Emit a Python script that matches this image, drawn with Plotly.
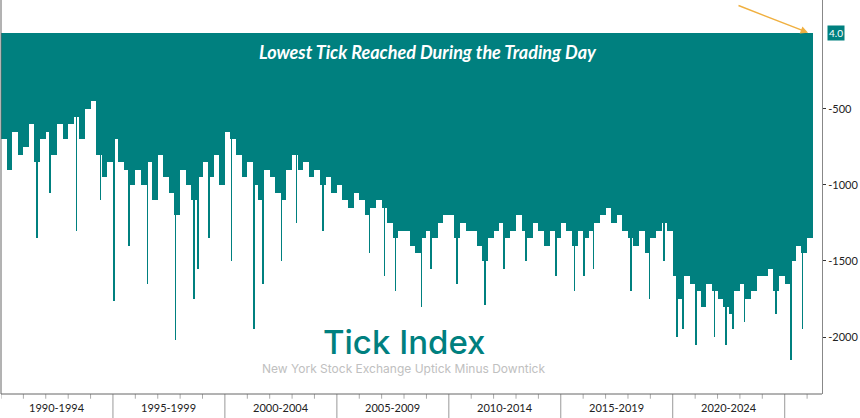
import plotly.graph_objects as go
import pandas as pd

# quarterly typical lows of the fill body
base_values = [
 -700,-900,-650,-800, -750,-600,-850,-700, -650,-800,-600,-700, -600,-550,-700,-500, -450,-800,-950,-850,
 -700,-850,-900,-1000, -900,-1000,-850,-1100, -800,-950,-1050,-1200, -900,-1000,-1100,-950, -850,-950,-800,-1000,
 -650,-700,-800,-950, -850,-1000,-1100,-900, -950,-1050,-1100,-900, -800,-900,-850,-950, -900,-1000,-950,-1050,
 -1000,-1100,-1150,-1050, -1100,-1200,-1150,-1100, -1150,-1250,-1350,-1300, -1300,-1400,-1450,-1350, -1300,-1350,-1250,-1200,
 -1200,-1350,-1250,-1300, -1300,-1400,-1500,-1350, -1300,-1250,-1350,-1300, -1200,-1300,-1350,-1250, -1300,-1400,-1300,-1350,
 -1250,-1300,-1400,-1300, -1350,-1300,-1250,-1200, -1150,-1250,-1200,-1300, -1350,-1400,-1300,-1450, -1350,-1300,-1250,-1300,
 -1600,-1750,-1600,-1650, -1700,-1800,-1650,-1700, -1750,-1800,-1850,-1700, -1650,-1750,-1700,-1600, -1600,-1550,-1700,-1600,
 -1650,-1500,-1400,-1450, -1350]
base_dates = pd.date_range("1990-01-01", periods=len(base_values), freq="QS")

spike_dates = ["1991-08-15","1992-03-15","1993-05-15","1994-06-15","1995-01-15","1995-09-15","1996-07-15","1997-10-15",
 "1998-08-15","1998-10-15","1999-04-15","2000-04-15","2001-04-15","2001-09-15","2002-07-15","2003-03-15","2004-05-15",
 "2006-06-15","2007-02-15","2007-08-15","2008-10-15","2009-03-15","2010-05-15","2011-08-15","2012-06-15","2013-06-15",
 "2014-10-15","2015-08-15","2016-01-15","2016-06-15","2018-02-15","2018-12-15","2019-08-15","2020-03-15","2020-06-15",
 "2021-01-15","2021-11-15","2022-05-15","2022-09-15","2023-03-15","2024-08-15","2025-04-15","2025-10-15"]
spike_values = [-1350,-1050,-1300,-1100,-1760,-1400,-1650,-2020,-1750,-1550,-1350,-1500,-1950,-1650,-1500,-1250,-1300,
 -1450,-1600,-1700,-1800,-1550,-1650,-1790,-1550,-1500,-1600,-1700,-1600,-1550,-1700,-1750,-1500,-2000,-1950,
 -2050,-2000,-2050,-1950,-1900,-1850,-2150,-1950]

period_labels = ["1990-1994","1995-1999","2000-2004","2005-2009","2010-2014","2015-2019","2020-2024"]
y_ticks = [-500, -1000, -1500, -2000]
last_value = "4.0"

teal = "#00807f"
day = 86400000
fig = go.Figure()
fig.add_trace(go.Bar(x=base_dates, y=base_values, width=92*day, offset=0,
                     marker=dict(color=teal, line=dict(width=0)), hoverinfo="skip"))
fig.add_trace(go.Bar(x=pd.to_datetime(spike_dates), y=spike_values, width=10*day,
                     marker=dict(color=teal, line=dict(width=0)), hoverinfo="skip"))

shapes = []
for yr in range(1990, 2027):
    big = (yr % 5 == 0) and yr > 1990
    shapes.append(dict(type="line", xref="x", yref="paper", x0=f"{yr}-01-01", x1=f"{yr}-01-01",
                       y0=0, y1=-0.07 if big else -0.012, line=dict(color="#999" if big else "#aaa", width=1)))
shapes.append(dict(type="line", xref="paper", yref="paper", x0=0, x1=1, y0=0, y1=0, line=dict(color="#666", width=1)))
shapes.append(dict(type="line", xref="paper", yref="paper", x0=0, x1=0, y0=0, y1=1, line=dict(color="#666", width=1)))

def v(py):
    return (33 - py) * 500 / 76

ann = []
for i, lab in enumerate(period_labels):
    mid = pd.Timestamp(f"{1990+5*i+2}-07-01")
    ann.append(dict(x=mid, y=-0.035, xref="x", yref="paper", text=lab, showarrow=False,
                    font=dict(size=11, color="#222"), yanchor="middle"))
ann += [
    dict(x=0.52, y=v(52), xref="paper", yref="y", text="<b><i>Lowest Tick Reached During the Trading Day</i></b>",
         showarrow=False, font=dict(size=18, color="white", family="Lato")),
    dict(x=403/822, y=v(342), xref="paper", yref="y", text="Tick Index", showarrow=False,
         font=dict(size=33, color=teal, family="Inter", weight=500)),
    dict(x=403/822, y=v(368), xref="paper", yref="y", text="New York Stock Exchange Uptick Minus Downtick",
         showarrow=False, font=dict(size=12, color="#c0c0c0", family="Inter")),
    dict(x=1, y=0, xref="paper", yref="y", text=last_value, showarrow=False, xanchor="left", xshift=5,
         bgcolor=teal, font=dict(size=10, color="white"), borderpad=1),
    dict(x=pd.Timestamp("2026-02-01"), y=0, xref="x", yref="y", ax=-72, ay=-28, text="", showarrow=True,
         arrowhead=2, arrowsize=1, arrowwidth=1.5, arrowcolor="#f0b040", standoff=1),
]

fig.update_layout(
    width=860, height=418, margin=dict(l=1, r=38, t=0, b=24, autoexpand=False),
    paper_bgcolor="white", plot_bgcolor="white", showlegend=False, bargap=0, barmode="overlay",
    font=dict(family="Lato", color="#222"),
    xaxis=dict(type="date", range=["1990-01-01", "2026-09-01"], showticklabels=False, showgrid=False,
               zeroline=False, ticks=""),
    yaxis=dict(side="right", range=[-2375, 217], autorange=False, tickvals=y_ticks,
               ticktext=[str(t) for t in y_ticks], ticks="outside", ticklen=3, tickcolor="#333",
               showgrid=False, zeroline=False, showline=True, linecolor="#888",
               tickfont=dict(size=11, color="#222")),
    shapes=shapes, annotations=ann,
)
fig.write_html("out.html", config={"displayModeBar": False},
               post_script="document.body.style.margin='0';document.body.style.overflow='hidden';")
